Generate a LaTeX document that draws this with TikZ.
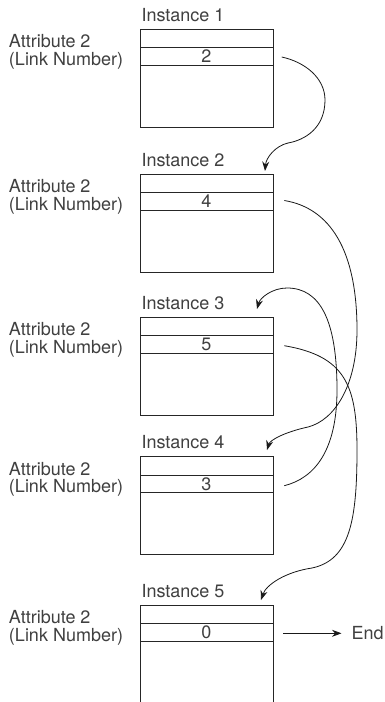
\documentclass[tikz,border=0pt]{standalone}
\usepackage{fontspec}
\setmainfont{TeX Gyre Heros}
\usetikzlibrary{arrows.meta}
\begin{document}
\begin{tikzpicture}[x=1pt,y=-1pt,
  box/.style={draw=black!85,line width=0.8pt,minimum width=133pt,minimum height=98pt,inner sep=0pt,outer sep=0pt},
  rowbox/.style={draw=black!85,line width=0.8pt,minimum width=133pt,minimum height=17.6pt,inner sep=0pt,outer sep=0pt,text=black!75,font=\fontsize{18}{20}\selectfont},
  lbl/.style={inner sep=0pt,outer sep=0pt,text=black!75,font=\fontsize{18}{20}\selectfont},
  link/.style={draw=black!90,line width=0.8pt,-{Stealth[length=9.5pt,width=7pt]}}]
\useasboundingbox (0,0) rectangle (384,702);
\fill[white] (0,0) rectangle (384,702);
\foreach \i/\t/\n in {1/29.3/2,2/174/4,3/317.3/5,4/456.7/3,5/605.3/0}{
  \node[box] (b\i) at (206.5,{\t+49}) {};
  \node[rowbox] (r\i) at (206.5,{\t+27.2}) {\n};
  \node[lbl,anchor=base west] (i\i) at (141.5,{\t-8}) {Instance \i};
  \node[lbl,anchor=base west] (a\i) at (9,{\t+18.3}) {Attribute 2};
  \node[lbl,anchor=base west] (l\i) at (9,{\t+36}) {(Link Number)};
}
% connector ends
\coordinate (s1) at (281.7,57);
\coordinate (s2) at (284.3,200.5);
\coordinate (s3) at (284.3,345.7);
\coordinate (s4) at (284.3,485.7);
\coordinate (s5) at (283.3,633.3);
\coordinate (e2) at (265,171);
\coordinate (e3) at (257,309);
\coordinate (e4) at (267,450);
\coordinate (e5) at (261,600);
\node[lbl,anchor=west] (end) at (351.5,633.3) {End};
% 1 -> 2
\draw[link] (s1) .. controls (305,62) and (325,78) .. (325,100)
  .. controls (325,128) and (305,140) .. (288,143)
  .. controls (275,146) and (266,158) .. (e2);
% 2 -> 4
\draw[link] (s2) .. controls (330,208) and (357,250) .. (357,330)
  .. controls (357,385) and (335,420) .. (308,427)
  .. controls (285,432) and (270,440) .. (e4);
% 4 -> 3
\draw[link] (s4) .. controls (315,478) and (337,450) .. (337,390)
  .. controls (337,320) and (320,288) .. (287,288)
  .. controls (272,288) and (260,298) .. (e3);
% 3 -> 5
\draw[link] (s3) .. controls (345,356) and (357,385) .. (357,450)
  .. controls (357,520) and (350,560) .. (312,568)
  .. controls (285,572) and (266,585) .. (e5);
% 5 -> End
\draw[link] (s5) -- ([xshift=-10pt]end.west);
\end{tikzpicture}
\end{document}
